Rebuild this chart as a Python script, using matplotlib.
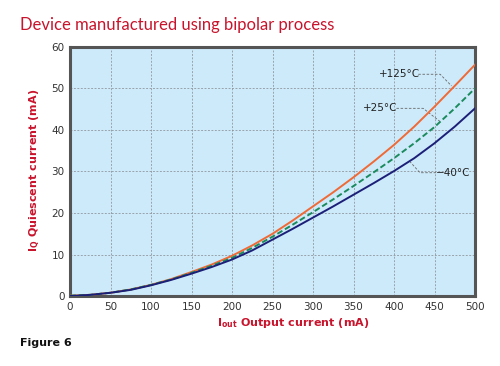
import matplotlib.pyplot as plt

# Output current (mA)
iout = [0, 25, 50, 75, 100, 125, 150, 175, 200, 225, 250,
        275, 300, 325, 350, 375, 400, 425, 450, 475, 500]

# Quiescent current (mA) at three temperatures
iq_125 = [0.1, 0.3, 0.8, 1.6, 2.7, 4.1, 5.8, 7.6, 9.7, 12.2, 15.0,
          18.2, 21.6, 25.0, 28.6, 32.4, 36.4, 40.8, 45.6, 50.6, 55.7]
iq_25 = [0.1, 0.3, 0.8, 1.6, 2.7, 4.0, 5.6, 7.3, 9.2, 11.6, 14.3,
         17.2, 20.2, 23.3, 26.5, 29.8, 33.2, 36.8, 40.7, 45.2, 50.0]
iq_m40 = [0.0, 0.3, 0.8, 1.5, 2.6, 3.9, 5.4, 7.0, 8.8, 11.0, 13.6,
          16.2, 18.9, 21.6, 24.4, 27.2, 30.1, 33.2, 36.8, 40.8, 45.2]

xticks = list(range(0, 501, 50))
yticks = list(range(0, 61, 10))

red = '#c8142c'

fig = plt.figure(figsize=(5, 3.66), dpi=100)
ax = fig.add_axes([0.14, 0.191, 0.81, 0.681])
ax.set_facecolor('#cdeafa')

ax.plot(iout, iq_125, color='#f06a36', lw=1.4, zorder=3)
ax.plot(iout, iq_25, color='#1b8a5c', lw=1.4, ls=(0, (3, 1.5)), zorder=3)
ax.plot(iout, iq_m40, color='#1c1f78', lw=1.4, zorder=3)

ax.set_xlim(0, 500)
ax.set_ylim(0, 60)
ax.set_xticks(xticks)
ax.set_yticks(yticks)
ax.grid(True, color='#8a8f96', lw=0.55, ls=(0, (2.5, 2)))
ax.tick_params(length=0, labelsize=7.5, colors='#333333', pad=4)
for s in ax.spines.values():
    s.set_color('#555555')
    s.set_linewidth(2.2)

# curve labels with dashed leaders
lead = dict(color='#666666', lw=0.6, ls=(0, (3, 2)))
ax.text(407, 53.4, '+125°C', ha='center', va='center', fontsize=7.5, color='#222222')
ax.plot([430, 457, 471], [53.4, 53.4, 50.6], **lead)
ax.text(383, 45.2, '+25°C', ha='center', va='center', fontsize=7.5, color='#222222')
ax.plot([403, 436, 457], [45.2, 45.2, 42.0], **lead)
ax.text(473, 29.7, '\u221240°C', ha='center', va='center', fontsize=7.5, color='#222222')
ax.plot([452, 432, 420], [29.7, 29.7, 32.3], **lead)

fig.text(0.04, 0.932, 'Device manufactured using bipolar process', color=red,
         fontsize=12, family='Lato', va='center', ha='left')
fig.text(0.586, 0.117, r'I$_{\mathbf{out}}$ Output current (mA)', color=red,
         fontsize=8, fontweight='bold', ha='center', va='center')
fig.text(0.07, 0.535, r'I$_{\mathbf{Q}}$ Quiescent current (mA)', color=red,
         fontsize=8, fontweight='bold', ha='center', va='center', rotation=90)
fig.text(0.04, 0.063, 'Figure 6', color='#111111', fontsize=8,
         fontweight='bold', ha='left', va='center')

fig.savefig('out.png', dpi=100)
